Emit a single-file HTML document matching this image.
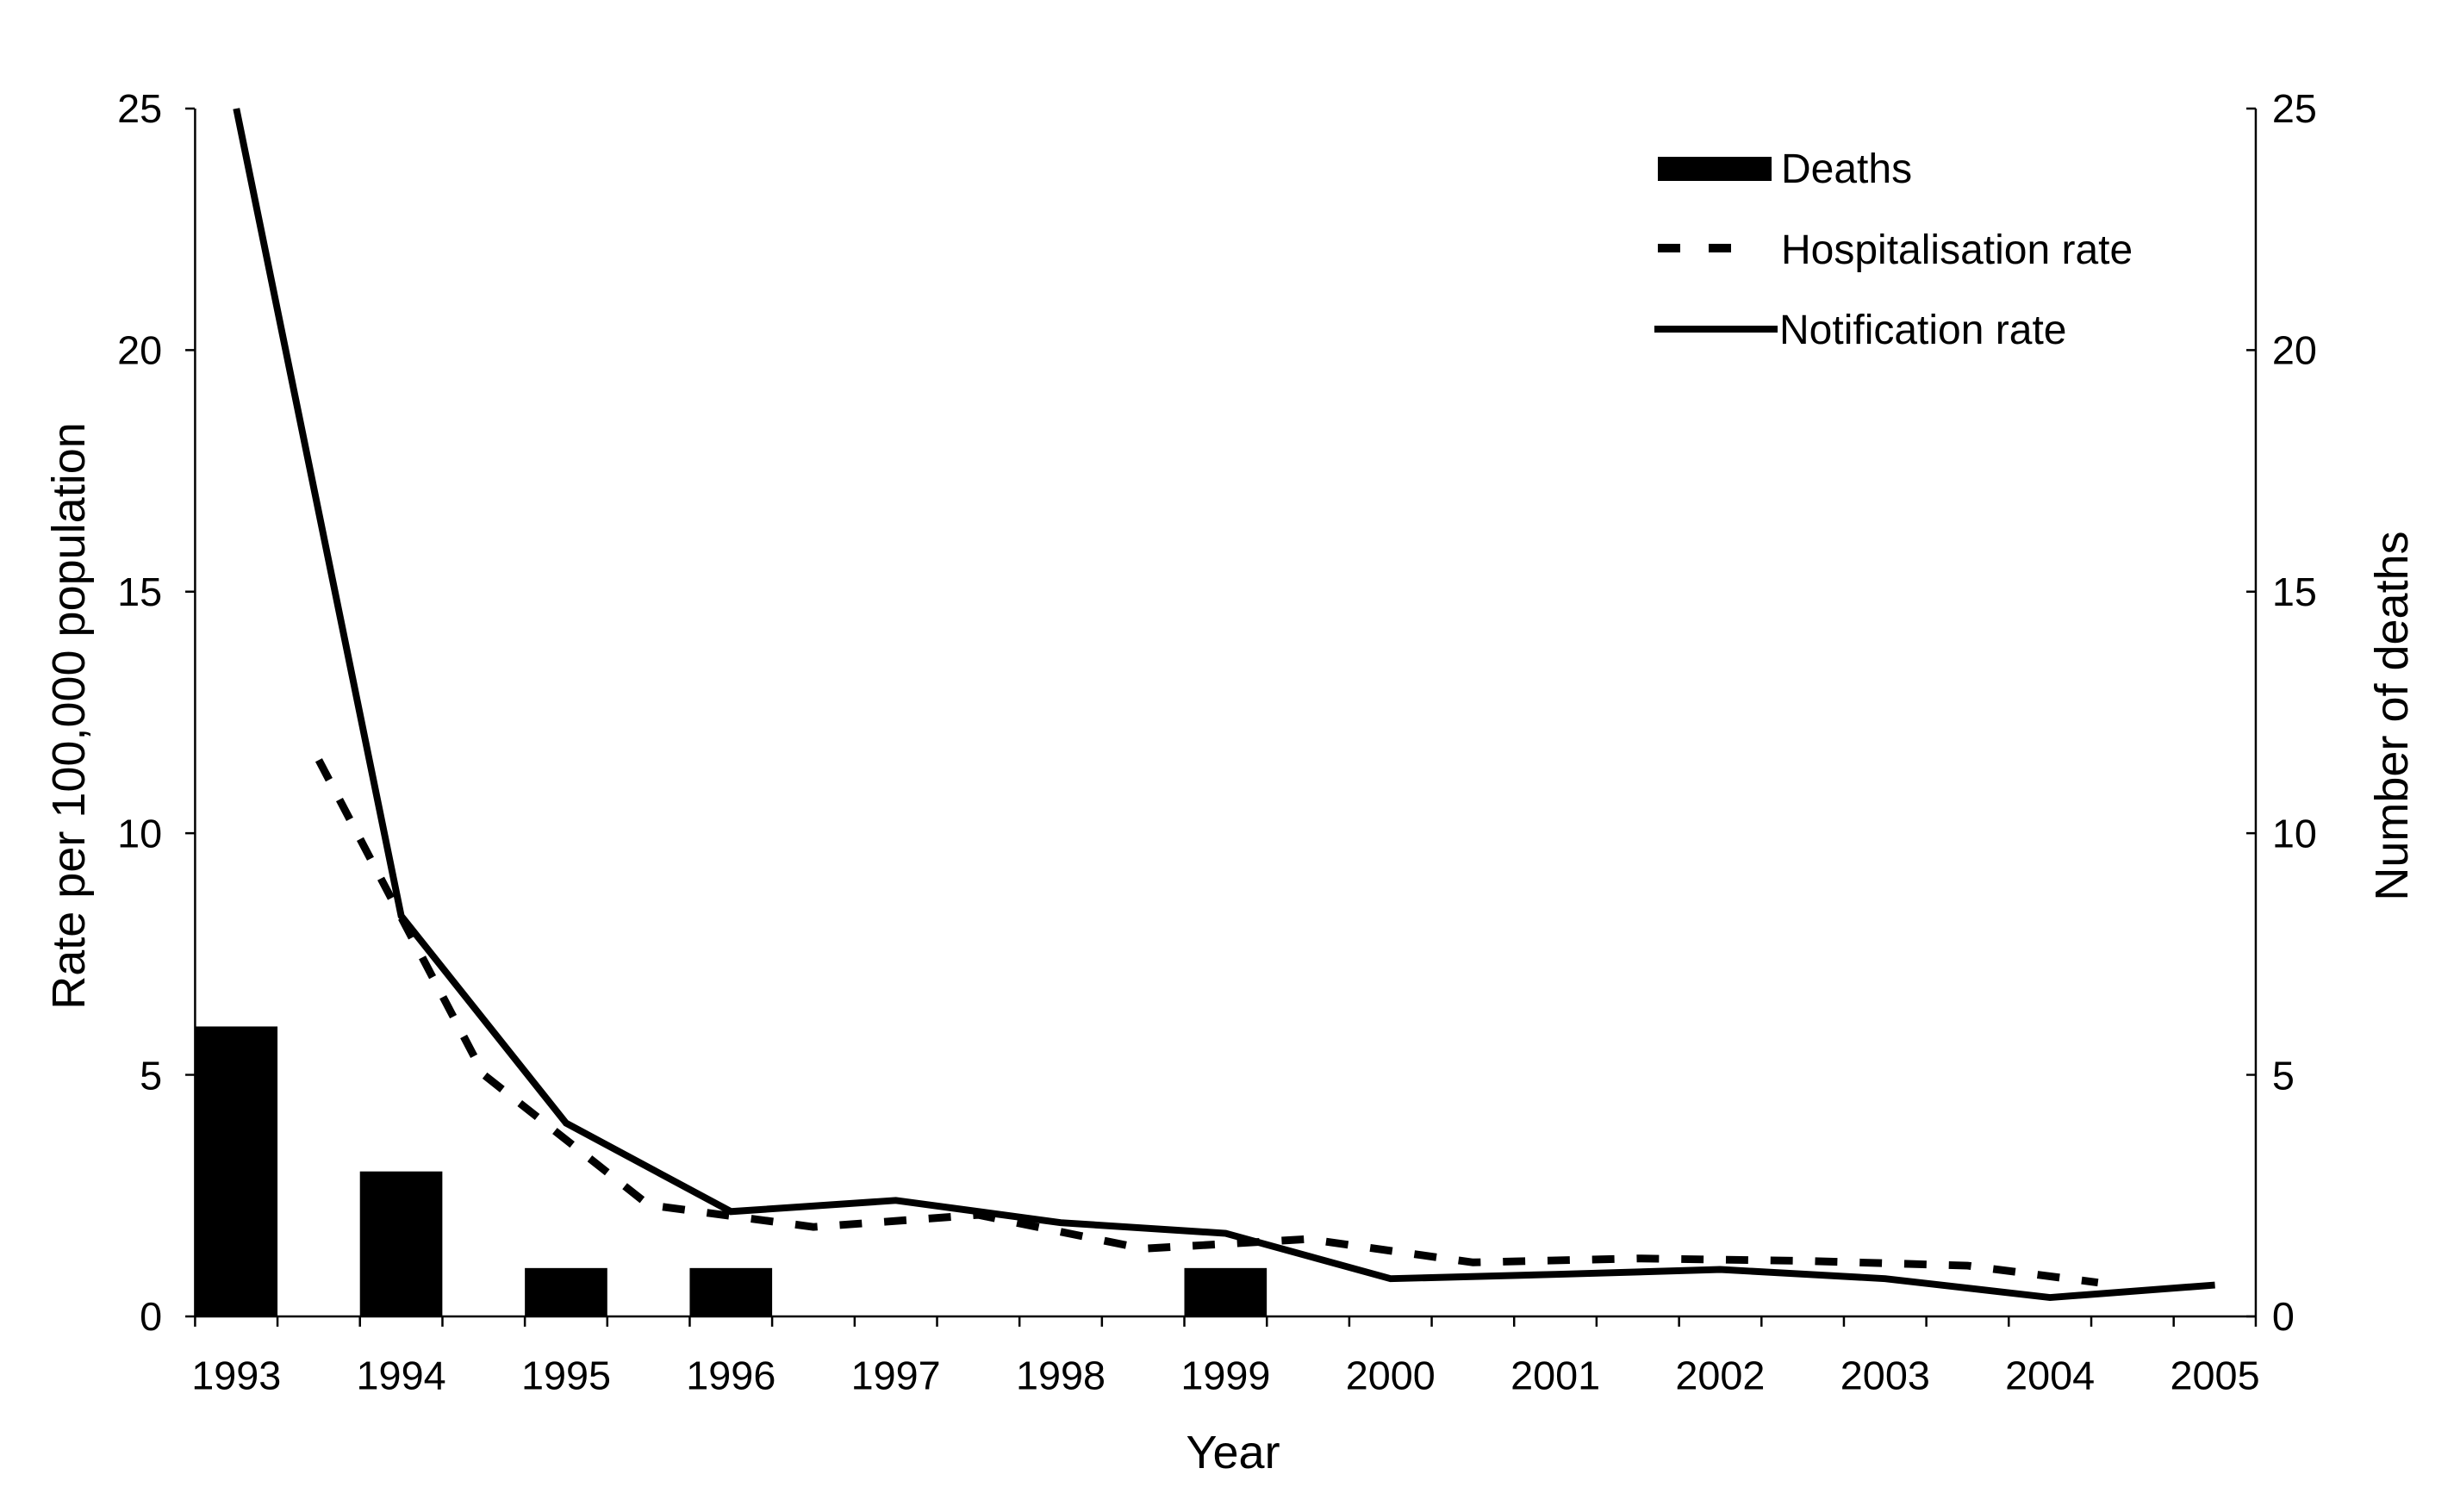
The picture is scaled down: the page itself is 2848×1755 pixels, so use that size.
<!DOCTYPE html>
<html><head><meta charset="utf-8"><style>html,body{margin:0;padding:0;background:#fff}</style></head>
<body>
<svg width="2848" height="1750" viewBox="0 0 2848 1750" xmlns="http://www.w3.org/2000/svg" font-family="Liberation Sans, Arial, sans-serif">
<rect width="2848" height="1750" fill="#fff"/>
<g transform="translate(226.4,126) scale(0.9954,0.995) translate(-226.4,-126)">
<g fill="#000">
<rect x="226.4" y="1196.8" width="96.1" height="338.2"/>
<rect x="418.6" y="1365.9" width="96.1" height="169.1"/>
<rect x="610.9" y="1478.6" width="96.1" height="56.4"/>
<rect x="803.1" y="1478.6" width="96.1" height="56.4"/>
<rect x="1379.8" y="1478.6" width="96.1" height="56.4"/>
</g>
<g stroke="#000" stroke-width="2.5" fill="none">
<line x1="226.4" y1="126" x2="226.4" y2="1535"/>
<line x1="2629" y1="126" x2="2629" y2="1535"/>
<line x1="226.4" y1="1535" x2="2629" y2="1535"/>
<path d="M215 126H226M215 407.8H226M215 689.6H226M215 971.4H226M215 1253.2H226M215 1535H226"/>
<path d="M2618 126H2629M2618 407.8H2629M2618 689.6H2629M2618 971.4H2629M2618 1253.2H2629M2618 1535H2629"/>
<path d="M226.4 1535v12M322.5 1535v12M418.6 1535v12M514.8 1535v12M610.9 1535v12M707 1535v12M803.1 1535v12M899.2 1535v12M995.4 1535v12M1091.5 1535v12M1187.6 1535v12M1283.7 1535v12M1379.8 1535v12M1476 1535v12M1572.1 1535v12M1668.2 1535v12M1764.3 1535v12M1860.4 1535v12M1956.6 1535v12M2052.7 1535v12M2148.8 1535v12M2244.9 1535v12M2341 1535v12M2437.2 1535v12M2533.3 1535v12M2629 1535v12"/>
</g>
<polyline fill="none" stroke="#000" stroke-width="8" stroke-linejoin="miter" points="274.5,126 466.7,1067.8 659,1309.6 851.2,1412.7 1043.4,1399.7 1235.7,1425.7 1427.9,1438.1 1620.2,1491 1812.4,1486 2004.6,1480.3 2196.9,1491 2389.1,1513 2581.4,1498.4"/>
<polyline fill="none" stroke="#000" stroke-width="9" stroke-dasharray="26,26" points="370.6,886 562.9,1253 755.1,1405 947.3,1430.7 1139.6,1416.6 1331.8,1456 1524,1444.8 1716.3,1472 1908.5,1467.4 2100.7,1470.2 2293,1475.8 2445,1495.5"/>
<g font-size="47" fill="#000">
<g text-anchor="end">
<text x="188" y="142">25</text><text x="188" y="424">20</text><text x="188" y="706">15</text><text x="188" y="988">10</text><text x="188" y="1270">5</text><text x="188" y="1551">0</text>
</g>
<g text-anchor="start">
<text x="2648" y="142">25</text><text x="2648" y="424">20</text><text x="2648" y="706">15</text><text x="2648" y="988">10</text><text x="2648" y="1270">5</text><text x="2648" y="1551">0</text>
</g>
<g text-anchor="middle">
<text x="274.5" y="1620">1993</text><text x="466.7" y="1620">1994</text><text x="659" y="1620">1995</text><text x="851.2" y="1620">1996</text><text x="1043.4" y="1620">1997</text><text x="1235.7" y="1620">1998</text><text x="1427.9" y="1620">1999</text><text x="1620.2" y="1620">2000</text><text x="1812.4" y="1620">2001</text><text x="2004.6" y="1620">2002</text><text x="2196.9" y="1620">2003</text><text x="2389.1" y="1620">2004</text><text x="2581.4" y="1620">2005</text>
</g>
</g>
</g>
<text x="1431" y="1704" font-size="54" text-anchor="middle">Year</text>
<text transform="translate(98,831) rotate(-90)" font-size="54" text-anchor="middle">Rate per 100,000 population</text>
<text transform="translate(2794,831) rotate(-90)" font-size="54" text-anchor="middle">Number of deaths</text>
<rect x="1924" y="182" width="132" height="28" fill="#000"/>
<text x="2067" y="212" font-size="48">Deaths</text>
<path d="M1924 288H1950M1983 288H2009" stroke="#000" stroke-width="10"/>
<text x="2067" y="306" font-size="48">Hospitalisation rate</text>
<line x1="1920" y1="382" x2="2063" y2="382" stroke="#000" stroke-width="8"/>
<text x="2065" y="399" font-size="48">Notification rate</text>
</svg>
</body></html>
